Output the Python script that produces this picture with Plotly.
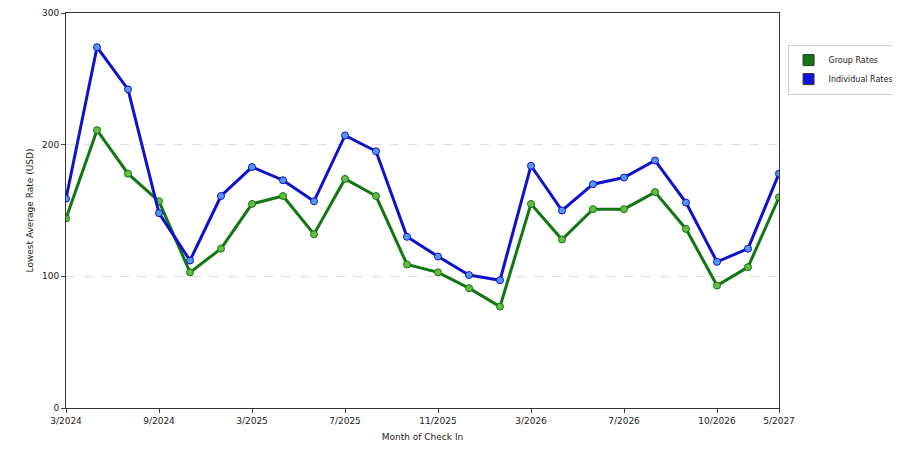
import plotly.graph_objects as go

months = ["3/2024","5/2024","7/2024","9/2024","11/2024","1/2025","3/2025","5/2025","6/2025","7/2025","8/2025","9/2025",
          "11/2025","12/2025","1/2026","3/2026","4/2026","6/2026","7/2026","8/2026","9/2026","10/2026","12/2026","5/2027"]
tick_labels = ["3/2024","9/2024","3/2025","7/2025","11/2025","3/2026","7/2026","10/2026","5/2027"]
tick_idx = [0,3,6,9,12,15,18,21,23]
group = [144,211,178,157,103,121,155,161,132,174,161,109,103,91,77,155,128,151,151,164,136,93,107,160]
indiv = [159,274,242,148,112,161,183,173,157,207,195,130,115,101,97,184,150,170,175,188,156,111,121,178]
x = list(range(len(months)))

fig = go.Figure()
fig.add_trace(go.Scatter(x=x, y=group, showlegend=False, mode="lines+markers",
    line=dict(color="#117711", width=3), marker=dict(color="#66bb44", size=7, line=dict(color="#117711", width=1))))
fig.add_trace(go.Scatter(x=x, y=indiv, showlegend=False, mode="lines+markers",
    line=dict(color="#1111cc", width=3), marker=dict(color="#5599ee", size=7, line=dict(color="#1111cc", width=1))))
for name, col in [("Group Rates", "#117711"), ("Individual Rates", "#1111dd")]:
    fig.add_trace(go.Scatter(x=[None], y=[None], name=name, mode="markers",
        marker=dict(symbol="square", size=11, color=col, line=dict(color="#333", width=1))))
fig.update_layout(
    width=900, height=450, paper_bgcolor="white", plot_bgcolor="white",
    margin=dict(l=58, r=129, t=5, b=50),
    font=dict(family="DejaVu Sans", size=9, color="#222"),
    legend=dict(x=1.012, y=0.92, xanchor="left", yanchor="top", bordercolor="#ccc", borderwidth=1,
                font=dict(size=8), itemwidth=30, tracegroupgap=2),
    xaxis=dict(range=[0,23], tickvals=tick_idx, ticktext=tick_labels, showgrid=False, showline=True,
               linecolor="#333", mirror=True, ticks="outside", ticklen=4, zeroline=False, automargin=False,
               title=dict(text="Month of Check In", font=dict(size=9), standoff=8)),
    yaxis=dict(range=[0,300], tickvals=[0,100,200,300], showgrid=True, gridcolor="#ddd", griddash="dash",
               showline=True, linecolor="#333", mirror=True, ticks="outside", ticklen=4, zeroline=False, automargin=False,
               title=dict(text="Lowest Average Rate (USD)", font=dict(size=9), standoff=6)),
)
fig.write_html("out.html")
